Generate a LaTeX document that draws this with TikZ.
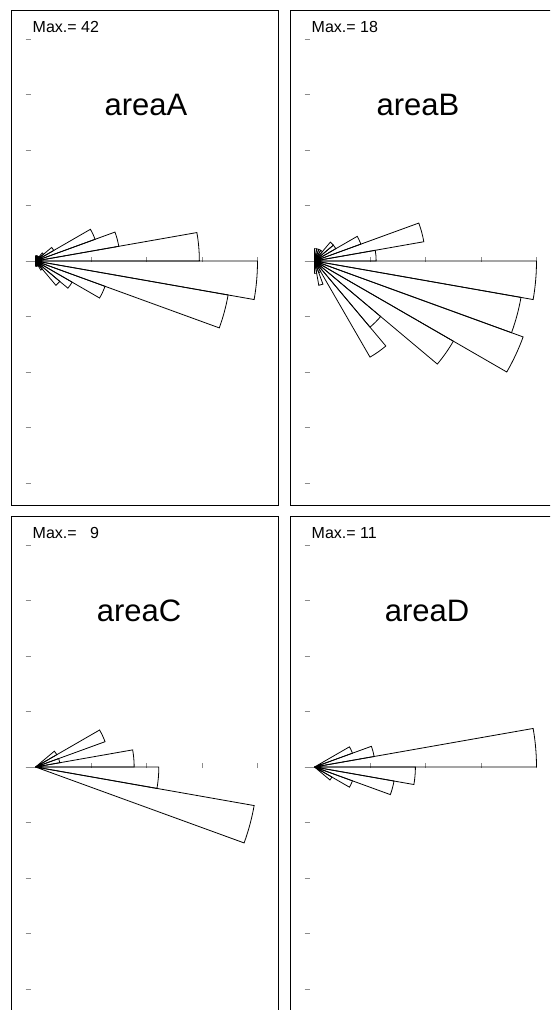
\documentclass[tikz,border=0pt]{standalone}
\usepackage{fontspec}
\setmainfont{Liberation Sans}
\usepackage{tikz}

\tikzstyle{frame} = [draw=black, line width=0.8pt]
\tikzstyle{petal} = [draw=black, line width=0.8pt, line join=miter]
\tikzstyle{tickmark} = [draw=black!45, line width=0.6pt]
\tikzstyle{maxlabel} = [anchor=base west, inner sep=0pt, font=\fontsize{16}{18}\selectfont]
\tikzstyle{title} = [anchor=base, inner sep=0pt, font=\fontsize{31}{36}\selectfont]

\begin{document}
\begin{tikzpicture}[x=1pt, y=1pt]
\useasboundingbox (0,0) rectangle (550,-1010);
\clip (0,0) rectangle (550,-1010);

% areaA
\begin{scope}[shift={(11,-10)}]
\draw [frame] (0,0) rectangle (267,-495);
\node (maxA) [maxlabel] at (21.5,-22) {Max.= 42};
\node (titleA) [title] at (135,-105) {areaA};
\begin{scope}[shift={(24.5,-251)}]
\foreach \k in {-4,...,4} \draw [tickmark] (-10,\k*55.5) -- (-5,\k*55.5);
\draw [tickmark] (-10,0) -- (0,0);
\foreach \k in {1,...,4} \draw [tickmark] (\k*55.5,-1) -- (\k*55.5,4);
\foreach \a/\c in {0/31,10/16,20/12,30/4,40/2,50/1,60/1,70/1,80/1,
                   -10/42,-20/37,-30/14,-40/8,-50/6,-60/2,-70/1,-80/1,-90/1} {
  \pgfmathsetmacro\r{\c*222/42}
  \draw [petal] (0,0) -- (\a:\r pt) arc [start angle=\a, end angle=\a+10, radius=\r pt] -- cycle;
}
\end{scope}
\end{scope}

% areaB
\begin{scope}[shift={(290,-10)}]
\draw [frame] (0,0) rectangle (267,-495);
\node (maxB) [maxlabel] at (21.5,-22) {Max.= 18};
\node (titleB) [title] at (128,-105) {areaB};
\begin{scope}[shift={(24.5,-251)}]
\foreach \k in {-4,...,4} \draw [tickmark] (-10,\k*55.5) -- (-5,\k*55.5);
\draw [tickmark] (-10,0) -- (0,0);
\foreach \k in {1,...,4} \draw [tickmark] (\k*55.5,-1) -- (\k*55.5,4);
\foreach \a/\c in {0/5,10/9,20/4,30/2,40/2,50/1,60/1,70/1,80/1,
                   -10/18,-20/17,-30/18,-40/13,-50/7,-60/9,-70/1,-80/2,-90/1} {
  \pgfmathsetmacro\r{\c*222/18}
  \draw [petal] (0,0) -- (\a:\r pt) arc [start angle=\a, end angle=\a+10, radius=\r pt] -- cycle;
}
\end{scope}
\end{scope}

% areaC
\begin{scope}[shift={(11,-516)}]
\draw [frame] (0,0) rectangle (267,-495);
\node (maxC) [maxlabel] at (21.5,-22) {Max.= \phantom{0}9};
\node (titleC) [title] at (128,-105) {areaC};
\begin{scope}[shift={(24.5,-251)}]
\foreach \k in {-4,...,4} \draw [tickmark] (-10,\k*55.5) -- (-5,\k*55.5);
\draw [tickmark] (-10,0) -- (0,0);
\foreach \k in {1,...,4} \draw [tickmark] (\k*55.5,-1) -- (\k*55.5,4);
\foreach \a/\c in {0/4,10/1,20/3,30/1,-10/5,-20/9} {
  \pgfmathsetmacro\r{\c*222/9}
  \draw [petal] (0,0) -- (\a:\r pt) arc [start angle=\a, end angle=\a+10, radius=\r pt] -- cycle;
}
\end{scope}
\end{scope}

% areaD
\begin{scope}[shift={(290,-516)}]
\draw [frame] (0,0) rectangle (267,-495);
\node (maxD) [maxlabel] at (21.5,-22) {Max.= 11};
\node (titleD) [title] at (137,-105) {areaD};
\begin{scope}[shift={(24.5,-251)}]
\foreach \k in {-4,...,4} \draw [tickmark] (-10,\k*55.5) -- (-5,\k*55.5);
\draw [tickmark] (-10,0) -- (0,0);
\foreach \k in {1,...,4} \draw [tickmark] (\k*55.5,-1) -- (\k*55.5,4);
\foreach \a/\c in {0/11,10/3,20/2,-10/5,-20/4,-30/2,-40/1} {
  \pgfmathsetmacro\r{\c*222/11}
  \draw [petal] (0,0) -- (\a:\r pt) arc [start angle=\a, end angle=\a+10, radius=\r pt] -- cycle;
}
\end{scope}
\end{scope}

\end{tikzpicture}
\end{document}
